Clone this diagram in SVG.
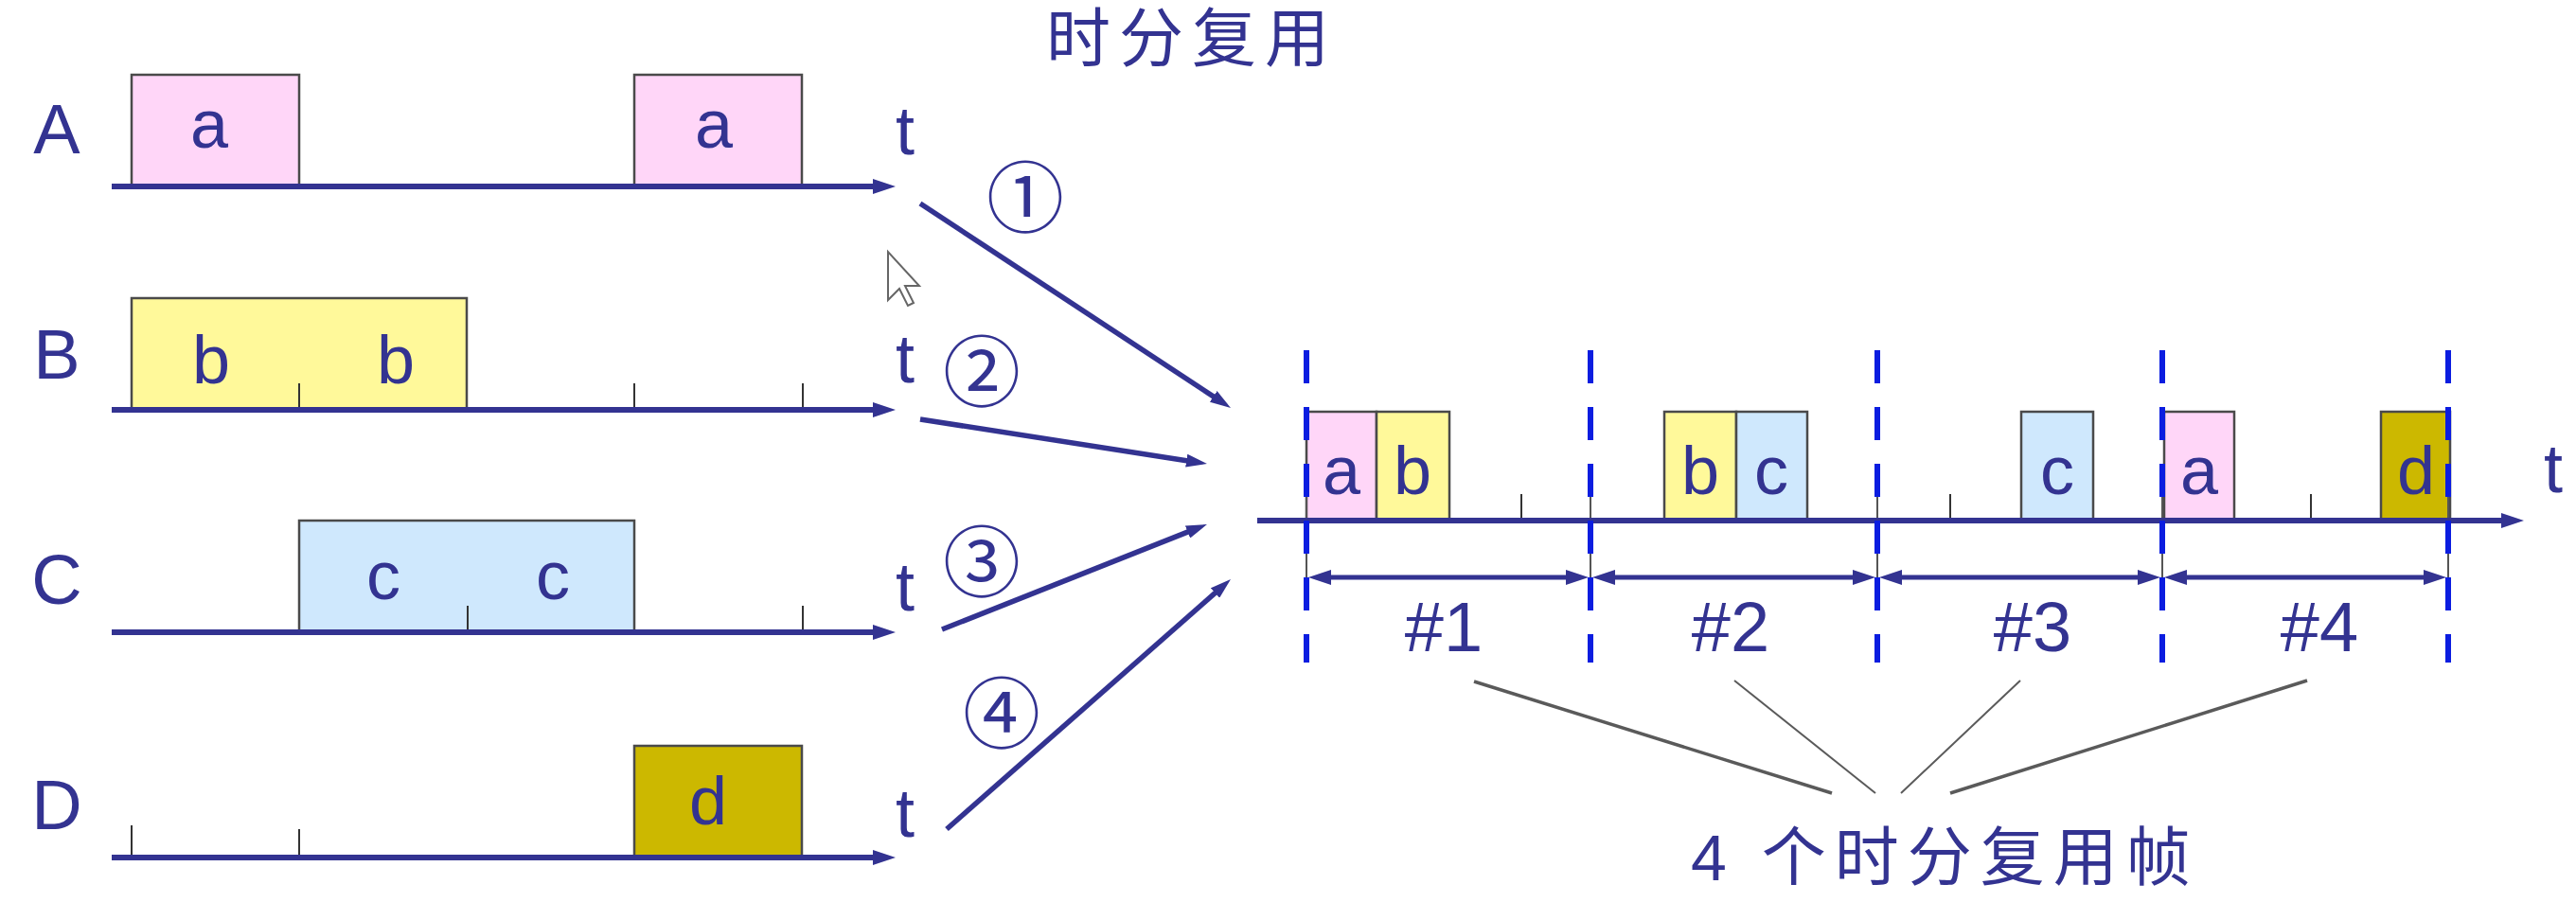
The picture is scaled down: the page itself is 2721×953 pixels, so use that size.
<svg xmlns="http://www.w3.org/2000/svg" width="2721" height="953" viewBox="0 0 2721 953">
<defs>
<style>
.lbl{font-family:"Liberation Sans",Arial,sans-serif;fill:#333391;text-anchor:middle}
.big{font-size:74px}
.let{font-size:72px}
.cjk{font-family:"Liberation Sans","Noto Sans CJK SC",sans-serif;fill:#333391;font-size:68px;letter-spacing:9px}
.circ{font-family:"Noto Sans CJK SC",sans-serif;fill:#333391;font-size:82px;text-anchor:middle}
.axis{stroke:#333391;stroke-width:6;fill:none;marker-end:url(#ax)}
.conn{stroke:#333391;stroke-width:5.5;fill:none;marker-end:url(#ah)}
.dbl{stroke:#333391;stroke-width:5;fill:none;marker-start:url(#ah2);marker-end:url(#ah2)}
.tick{stroke:#333;stroke-width:2}
.box{stroke:#4a4a4a;stroke-width:2.5}
.pa{fill:#ffd6f8}.pb{fill:#fff99a}.pc{fill:#cfe8fd}.pd{fill:#ccb800}
.dash{stroke:#0b1de0;stroke-width:6;stroke-dasharray:35 25}
.frm{stroke:#555;stroke-width:2}
.gray{stroke:#5a5a5a;fill:none}
</style>
<marker id="ax" viewBox="0 0 24 16" markerWidth="24" markerHeight="16" refX="10" refY="8" orient="auto" markerUnits="userSpaceOnUse"><path d="M0,0 L24,8 L0,16 z" fill="#333391"/></marker>
<marker id="ah" viewBox="0 0 24 14" markerWidth="24" markerHeight="14" refX="10" refY="7" orient="auto" markerUnits="userSpaceOnUse"><path d="M0,0 L22,7 L0,14 z" fill="#333391"/></marker>
<marker id="ah2" viewBox="0 0 24 16" markerWidth="24" markerHeight="16" refX="10" refY="8" orient="auto-start-reverse" markerUnits="userSpaceOnUse"><path d="M0,0 L24,8 L0,16 z" fill="#333391"/></marker>
</defs>
<rect width="2721" height="953" fill="#fff"/>

<g id="title"><text class="cjk" x="1105" y="65">时分复用</text></g>

<g id="channel-A">
<text class="lbl big" x="60" y="162">A</text>
<rect class="box pa" x="139" y="79" width="177" height="118"/>
<rect class="box pa" x="670" y="79" width="177" height="118"/>
<line class="axis" x1="118" y1="197" x2="932" y2="197"/>
<text class="lbl let" x="221" y="156">a</text>
<text class="lbl let" x="754" y="156">a</text>
<text class="lbl let" x="956" y="163">t</text>
</g>

<g id="channel-B">
<text class="lbl big" x="60" y="400">B</text>
<rect class="box pb" x="139" y="315" width="354" height="118"/>
<line class="tick" x1="316" y1="405" x2="316" y2="433"/>
<line class="tick" x1="670" y1="405" x2="670" y2="433"/>
<line class="tick" x1="848" y1="405" x2="848" y2="433"/>
<line class="axis" x1="118" y1="433" x2="932" y2="433"/>
<text class="lbl let" x="223" y="405">b</text>
<text class="lbl let" x="418" y="405">b</text>
<text class="lbl let" x="956" y="404">t</text>
</g>

<g id="channel-C">
<text class="lbl big" x="60" y="638">C</text>
<rect class="box pc" x="316" y="550" width="354" height="118"/>
<line class="tick" x1="494" y1="640" x2="494" y2="668"/>
<line class="tick" x1="848" y1="640" x2="848" y2="668"/>
<line class="axis" x1="118" y1="668" x2="932" y2="668"/>
<text class="lbl let" x="405" y="633">c</text>
<text class="lbl let" x="584" y="633">c</text>
<text class="lbl let" x="956" y="645">t</text>
</g>

<g id="channel-D">
<text class="lbl big" x="60" y="876">D</text>
<rect class="box pd" x="670" y="788" width="177" height="118"/>
<line class="tick" x1="139" y1="872" x2="139" y2="906"/>
<line class="tick" x1="316" y1="876" x2="316" y2="906"/>
<line class="axis" x1="118" y1="906" x2="932" y2="906"/>
<text class="lbl let" x="748" y="871">d</text>
<text class="lbl let" x="956" y="884">t</text>
</g>

<g id="labels-circled">
<text class="circ" x="1083" y="239">①</text>
<text class="circ" x="1037" y="423">②</text>
<text class="circ" x="1037" y="624">③</text>
<text class="circ" x="1058" y="784">④</text>
</g>

<g id="tdm-frames">
<rect class="box pa" x="1380" y="435" width="74" height="115"/>
<rect class="box pb" x="1454" y="435" width="77" height="115"/>
<rect class="box pb" x="1758" y="435" width="76" height="115"/>
<rect class="box pc" x="1834" y="435" width="75" height="115"/>
<rect class="box pc" x="2135" y="435" width="76" height="115"/>
<rect class="box pa" x="2286" y="435" width="74" height="115"/>
<rect class="box pd" x="2515" y="435" width="73" height="115"/>
<line class="tick" x1="1607" y1="522" x2="1607" y2="550"/>
<line class="tick" x1="2060" y1="522" x2="2060" y2="550"/>
<line class="tick" x1="2441" y1="522" x2="2441" y2="550"/>
<line class="frm" x1="1380" y1="522" x2="1380" y2="615"/>
<line class="frm" x1="1680" y1="522" x2="1680" y2="615"/>
<line class="frm" x1="1983" y1="522" x2="1983" y2="615"/>
<line class="frm" x1="2284" y1="522" x2="2284" y2="615"/>
<line class="frm" x1="2586" y1="522" x2="2586" y2="615"/>
<line class="axis" x1="1328" y1="550" x2="2652" y2="550"/>
<text class="lbl let" x="1417" y="522">a</text>
<text class="lbl let" x="1492" y="522">b</text>
<text class="lbl let" x="1796" y="522">b</text>
<text class="lbl let" x="1871" y="522">c</text>
<text class="lbl let" x="2173" y="522">c</text>
<text class="lbl let" x="2323" y="522">a</text>
<text class="lbl let" x="2552" y="522">d</text>
<text class="lbl let" x="2697" y="520">t</text>
<line class="dash" x1="1380" y1="370" x2="1380" y2="700"/>
<line class="dash" x1="1680" y1="370" x2="1680" y2="700"/>
<line class="dash" x1="1983" y1="370" x2="1983" y2="700"/>
<line class="dash" x1="2284" y1="370" x2="2284" y2="700"/>
<line class="dash" x1="2586" y1="370" x2="2586" y2="700"/>
<line class="dbl" x1="1396" y1="610" x2="1664" y2="610"/>
<line class="dbl" x1="1696" y1="610" x2="1967" y2="610"/>
<line class="dbl" x1="1999" y1="610" x2="2268" y2="610"/>
<line class="dbl" x1="2300" y1="610" x2="2570" y2="610"/>
<text class="lbl big" x="1525" y="688">#1</text>
<text class="lbl big" x="1828" y="688">#2</text>
<text class="lbl big" x="2147" y="688">#3</text>
<text class="lbl big" x="2450" y="688">#4</text>
</g>

<g id="caption"><text class="cjk" x="1786" y="930">4 个时分复用帧</text></g>

<g id="connectors">
<line class="conn" x1="972" y1="215" x2="1290" y2="424.4"/>
<line class="conn" x1="972" y1="443" x2="1263.1" y2="488.2"/>
<line class="conn" x1="995" y1="665" x2="1263.8" y2="558.4"/>
<line class="conn" x1="1000" y1="876" x2="1291" y2="619.9"/>
<line class="gray" stroke-width="3.5" x1="1557" y1="720" x2="1935" y2="838"/>
<line class="gray" stroke-width="2" x1="1832" y1="719" x2="1981" y2="838"/>
<line class="gray" stroke-width="2" x1="2134" y1="719" x2="2008" y2="838"/>
<line class="gray" stroke-width="3.5" x1="2437" y1="719" x2="2060" y2="838"/>
</g>

<g id="cursor"><path d="M938,266 L938,317 L950,305 L959,323 L965,320 L956,302 L971,302 z" fill="#fff" stroke="#666" stroke-width="2"/></g>
</svg>
